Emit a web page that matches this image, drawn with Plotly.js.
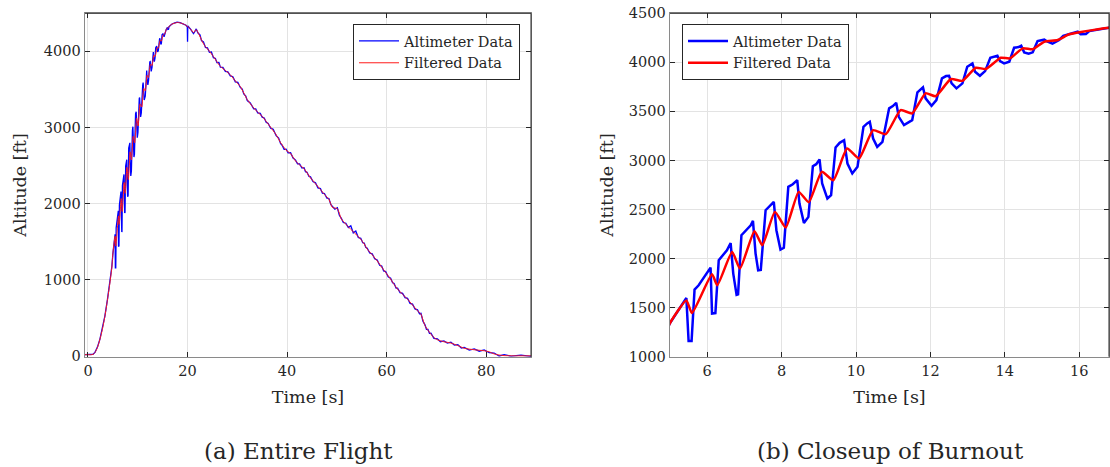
<!DOCTYPE html>
<html>
<head>
<meta charset="utf-8">
<script src="https://cdn.plot.ly/plotly-3.0.1.min.js"></script>
<style>html,body{margin:0;padding:0;background:#fff;}#chart{width:1110px;height:467px;}</style>
</head>
<body>
<div id="chart"></div>
<script>
// ---- Data ----
const altTime = [-0.6,0.0,0.5,1.0,1.4,1.9,2.4,2.9,3.4,3.9,4.4,4.8,5.0,5.44,5.50,5.58,5.66,5.77,5.86,6.00,6.09,6.13,6.22,6.31,6.40,6.53,6.63,6.70,6.79,6.83,6.92,7.05,7.17,7.23,7.30,7.37,7.44,7.57,7.66,7.79,7.86,7.97,8.06,8.18,8.30,8.42,8.48,8.60,8.72,8.84,8.93,9.02,9.09,9.23,9.33,9.45,9.56,9.68,9.77,9.90,10.04,10.20,10.30,10.37,10.46,10.57,10.71,10.89,10.99,11.08,11.15,11.29,11.51,11.65,11.80,11.87,12.03,12.16,12.31,12.42,12.50,12.57,12.70,12.86,12.99,13.13,13.20,13.33,13.47,13.61,13.80,13.87,13.98,14.12,14.25,14.37,14.44,14.52,14.64,14.75,14.88,15.06,15.15,15.28,15.46,15.57,15.72,15.96,16.04,16.18,16.27,16.81,17.3,17.9,18.5,19.2,19.7,19.95,20.0,20.05,20.6,21.2,21.5,21.75,22.1,22.5,22.8,23.2,23.6,24.0,24.4,24.8,25.2,25.6,25.9,26.3,26.6,27.1,27.6,28.1,28.6,29.1,29.6,30.1,30.6,31.0,31.3,31.7,32.0,32.6,33.3,33.7,34.1,34.6,35.0,35.4,35.8,36.2,36.7,37.2,37.8,38.3,38.7,39.0,39.4,39.8,40.2,40.7,41.2,41.7,42.1,42.5,43.0,43.4,43.7,44.0,44.4,44.7,45.2,45.7,46.2,46.7,47.1,47.5,48.0,48.4,48.8,49.1,49.6,50.1,50.5,50.9,51.3,51.8,52.3,52.8,53.3,53.8,54.3,54.8,55.2,55.5,55.8,56.1,56.6,57.1,57.6,58.1,58.6,59.0,59.4,59.8,60.3,60.8,61.2,61.5,61.9,62.2,62.7,63.2,63.7,64.2,64.7,65.2,65.7,66.2,66.6,66.9,67.3,67.7,68.0,68.3,68.6,68.9,69.5,70.2,70.8,71.5,72.2,72.9,73.6,74.3,75.0,75.6,76.6,77.6,78.6,79.6,80.6,81.6,82.6,83.6,85.0,87.0,89.0];
const altFt = [20,24,18,26,51,120,225,360,530,740,966,1180,1343,1598,1160,1160,1684,1728,1778,1847,1908,1440,1445,1983,2023,2085,2159,1847,1630,1635,2238,2289,2340,2384,2051,1880,1885,2493,2527,2578,2289,2092,2110,2731,2758,2799,2561,2363,2425,2942,2962,3010,2765,2612,2646,3133,3180,3207,2969,2867,2935,3343,3378,3394,3224,3139,3190,3531,3554,3588,3445,3360,3411,3694,3745,3633,3557,3615,3837,3860,3863,3786,3735,3786,3955,3990,3904,3863,3911,4047,4067,4013,3990,4006,4149,4156,4169,4102,4088,4102,4217,4231,4210,4190,4228,4271,4286,4312,4286,4289,4319,4353,4368,4380,4374,4360,4340,4320,4125,4330,4290,4232,4262,4292,4238,4215,4140,4122,4050,4045,3985,3990,3915,3905,3850,3852,3790,3788,3735,3730,3676,3665,3598,3592,3525,3502,3440,3412,3352,3322,3245,3244,3190,3184,3135,3124,3068,3052,2990,2977,2893,2862,2788,2767,2713,2714,2668,2670,2598,2572,2523,2522,2468,2472,2420,2412,2358,2352,2290,2274,2208,2198,2138,2134,2073,2069,1988,1962,1928,1947,1848,1807,1753,1744,1688,1712,1618,1642,1556,1546,1488,1484,1428,1416,1353,1343,1278,1262,1193,1182,1118,1110,1043,1024,963,954,893,892,833,824,768,760,693,684,620,608,558,564,458,412,353,352,300,302,235,228,190,202,172,185,146,152,108,116,80,97,66,84,46,42,4,20,2,15,-2];

const filtTime = [-0.6,0.0,0.5,1.0,1.4,1.9,2.4,2.9,3.4,3.9,4.4,4.8,5.0,5.44,5.59,6.13,6.27,6.67,6.88,7.27,7.48,7.82,8.11,8.46,8.73,9.08,9.39,9.76,10.08,10.46,10.80,11.20,11.51,11.87,12.14,12.55,12.86,13.22,13.49,13.89,14.14,14.48,14.75,15.06,15.42,15.73,16.09,16.81,17.3,17.9,18.5,19.2,19.9,20.6,21.2,21.75,22.3,23.0,23.6,24.4,25.2,25.9,26.6,27.6,28.6,29.6,30.6,31.3,32.0,33.3,34.1,35.0,35.8,36.7,37.8,38.7,39.8,40.7,41.7,42.5,43.4,44.7,45.7,46.7,47.5,48.4,49.1,50.1,50.9,51.8,52.8,53.8,54.8,55.5,56.1,57.1,58.1,59.0,59.8,60.8,61.5,62.2,63.2,64.2,65.2,66.2,66.9,67.3,67.7,68.3,68.9,69.5,70.2,71.5,72.9,74.3,75.6,77.6,79.6,80.6,81.6,82.6,83.6,86.0,89.0];
const filtFt = [20,21,20,24,48,115,222,355,525,735,960,1170,1343,1574,1445,1840,1728,2068,1898,2279,2136,2476,2316,2680,2575,2884,2799,3122,3020,3309,3268,3513,3480,3684,3655,3830,3812,3945,3932,4047,4041,4143,4133,4210,4228,4286,4312,4353,4366,4376,4372,4356,4330,4290,4245,4282,4220,4120,4060,4000,3930,3862,3800,3748,3690,3610,3537,3452,3365,3256,3200,3146,3080,3002,2905,2800,2702,2658,2560,2510,2460,2340,2262,2186,2122,2057,1952,1935,1800,1732,1664,1602,1534,1472,1404,1331,1250,1170,1098,1012,942,880,812,748,672,596,552,475,402,340,290,245,216,190,173,140,104,85,72,58,30,16,8,5,5];

const xTicks1 = [0,20,40,60,80];
const yTicks1 = [0,1000,2000,3000,4000];
const xTicks2 = [6,8,10,12,14,16];
const yTicks2 = [1000,1500,2000,2500,3000,3500,4000,4500];

const seriesNames = ['Altimeter Data','Filtered Data'];
const captions = ['(a) Entire Flight','(b) Closeup of Burnout'];

// ---- Layout helpers ----
const W = 1110, H = 467;
const FONT = 'DejaVu Serif';
const TXT = '#262626';
const px = v => v / W;
const py = v => 1 - v / H;

const box1 = {l: 85, r: 531, t: 13.3, b: 356.7};
const box2 = {l: 670, r: 1109, t: 13.3, b: 356.7};

function axisBase(extra) {
  return Object.assign({
    showline: true, linecolor: '#8a8a8a', linewidth: 1.4, mirror: 'ticks',
    ticks: 'inside', ticklen: 5, tickcolor: TXT, tickwidth: 1,
    showgrid: true, gridcolor: '#e3e3e3', gridwidth: 1,
    zeroline: false, tickmode: 'array',
    tickfont: {family: FONT, size: 14.5, color: TXT}
  }, extra);
}

const traces = [
  {x: altTime, y: altFt, type: 'scatter', mode: 'lines', name: seriesNames[0],
   line: {color: '#0000ff', width: 1.3}, xaxis: 'x', yaxis: 'y', legend: 'legend'},
  {x: filtTime, y: filtFt, type: 'scatter', mode: 'lines', name: seriesNames[1],
   line: {color: '#ff1a1a', width: 1, shape: 'spline', smoothing: 0.5}, xaxis: 'x', yaxis: 'y', legend: 'legend'},
  {x: altTime, y: altFt, type: 'scatter', mode: 'lines', name: seriesNames[0],
   line: {color: '#0000ff', width: 2.5}, xaxis: 'x2', yaxis: 'y2', legend: 'legend2'},
  {x: filtTime, y: filtFt, type: 'scatter', mode: 'lines', name: seriesNames[1],
   line: {color: '#ff0000', width: 2.5, shape: 'spline', smoothing: 0.5}, xaxis: 'x2', yaxis: 'y2', legend: 'legend2'}
];

function frameShapes(b) {
  return [
    {type: 'line', xref: 'paper', yref: 'paper', x0: px(b.l), x1: px(b.r), y0: py(b.t), y1: py(b.t), line: {color: TXT, width: 1}, layer: 'above'},
    {type: 'line', xref: 'paper', yref: 'paper', x0: px(b.r), x1: px(b.r), y0: py(b.b), y1: py(b.t), line: {color: TXT, width: 1}, layer: 'above'}
  ];
}

const legendBase = {
  bgcolor: '#ffffff', bordercolor: TXT, borderwidth: 1,
  font: {family: FONT, size: 14.5, color: TXT},
  itemwidth: 40, tracegroupgap: 0, yanchor: 'top'
};

const layout = {
  width: W, height: H,
  margin: {l: 0, r: 0, t: 0, b: 0},
  paper_bgcolor: '#ffffff', plot_bgcolor: '#ffffff',
  showlegend: true,
  xaxis: axisBase({domain: [px(box1.l), px(box1.r)], range: [-0.6, 89.0], tickvals: xTicks1, anchor: 'y',
    title: {text: 'Time [s]', font: {family: FONT, size: 17.5, color: TXT}, standoff: 13}}),
  yaxis: axisBase({domain: [py(box1.b), py(box1.t)], range: [-6, 4497], tickvals: yTicks1, anchor: 'x',
    title: {text: 'Altitude [ft]', font: {family: FONT, size: 17.5, color: TXT}, standoff: 12}}),
  xaxis2: axisBase({domain: [px(box2.l), px(box2.r)], range: [5, 16.8], tickvals: xTicks2, anchor: 'y2',
    title: {text: 'Time [s]', font: {family: FONT, size: 17.5, color: TXT}, standoff: 13}}),
  yaxis2: axisBase({domain: [py(box2.b), py(box2.t)], range: [1000, 4500], tickvals: yTicks2, anchor: 'x2',
    title: {text: 'Altitude [ft]', font: {family: FONT, size: 17.5, color: TXT}, standoff: 10}}),
  legend: Object.assign({}, legendBase, {x: px(520), xanchor: 'right', y: py(24)}),
  legend2: Object.assign({}, legendBase, {x: px(682), xanchor: 'left', y: py(24)}),
  shapes: frameShapes(box1).concat(frameShapes(box2)),
  annotations: [
    {text: captions[0], xref: 'paper', yref: 'paper', x: px(298), y: py(451), xanchor: 'center', yanchor: 'middle',
     showarrow: false, font: {family: FONT, size: 23, color: TXT}},
    {text: captions[1], xref: 'paper', yref: 'paper', x: px(890), y: py(451), xanchor: 'center', yanchor: 'middle',
     showarrow: false, font: {family: FONT, size: 23, color: TXT}}
  ]
};

Plotly.newPlot('chart', traces, layout, {staticPlot: true, displayModeBar: false});
</script>
</body>
</html>
